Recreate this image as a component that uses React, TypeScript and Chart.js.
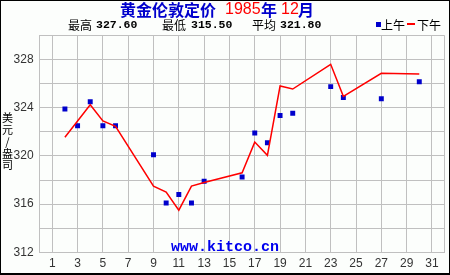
import React, { useEffect, useRef } from "react";
import { Chart, registerables } from "chart.js";

Chart.register(...registerables);

// ---- data ----
const amDays = [2, 3, 4, 5, 6, 9, 10, 11, 12, 13, 16, 17, 18, 19, 20, 23, 24, 27, 30];
const amPrices = [
  323.9, 322.5, 324.5, 322.5, 322.5, 320.1, 316.1, 316.8, 316.1, 317.9, 318.25, 321.9, 321.1,
  323.35, 323.55, 325.75, 324.85, 324.75, 326.15,
];
const pmDays = [2, 3, 4, 5, 6, 9, 10, 11, 12, 13, 16, 17, 18, 19, 20, 23, 24, 27, 30];
const pmPrices = [
  321.55, 322.9, 324.25, 322.9, 322.45, 317.5, 317.0, 315.5, 317.5, 317.8, 318.6, 321.15, 320.05,
  325.8, 325.55, 327.6, 324.95, 326.85, 326.8,
];
const xTickLabels = [1, 3, 5, 7, 9, 11, 13, 15, 17, 19, 21, 23, 25, 27, 29, 31];
const yTickLabels = [312, 316, 320, 324, 328];
const titleMain = "黄金伦敦定价";
const titleYear = "1985";
const titleYearUnit = "年";
const titleMonth = "12";
const titleMonthUnit = "月";
const statHighLabel = "最高";
const statHigh = "327.60";
const statLowLabel = "最低";
const statLow = "315.50";
const statAvgLabel = "平均";
const statAvg = "321.80";
const legendAm = "上午";
const legendPm = "下午";
const yTitleChars = ["美", "元", "/", "盎", "司"];
const watermark = "www.kitco.cn";

const CJK = "'Noto Sans CJK SC', sans-serif";
const NUM = "'Liberation Sans Narrow', 'Liberation Sans', sans-serif";
const SANS = "'Liberation Sans', sans-serif";
const MONO = "'Liberation Mono', 'DejaVu Sans Mono', monospace";
const BLUE = "#0000cc";
const RED = "#ff0000";

const decor = {
  id: "decor",
  beforeDraw(chart: any) {
    const ctx = chart.ctx;
    ctx.save();
    ctx.fillStyle = "#fcfefc";
    ctx.fillRect(0, 0, chart.width, chart.height);
    ctx.restore();
  },
  beforeDatasetsDraw(chart: any) {
    const ctx = chart.ctx;
    ctx.save();
    ctx.fillStyle = "#0000ee";
    ctx.font = `bold 15px ${MONO}`;
    ctx.textAlign = "center";
    ctx.textBaseline = "alphabetic";
    ctx.fillText(watermark, 225, 251);
    ctx.restore();
  },
  afterDraw(chart: any) {
    const ctx = chart.ctx;
    ctx.save();
    // title
    ctx.textBaseline = "middle";
    ctx.textAlign = "left";
    ctx.font = `bold 16px ${CJK}`;
    ctx.fillStyle = BLUE;
    ctx.fillText(titleMain, 120, 10);
    ctx.font = `16px ${SANS}`;
    ctx.fillStyle = RED;
    ctx.fillText(titleYear, 225, 10);
    ctx.font = `bold 16px ${CJK}`;
    ctx.fillStyle = BLUE;
    ctx.fillText(titleYearUnit, 261, 10);
    ctx.font = `16px ${SANS}`;
    ctx.fillStyle = RED;
    ctx.fillText(titleMonth, 281, 10);
    ctx.font = `bold 16px ${CJK}`;
    ctx.fillStyle = BLUE;
    ctx.fillText(titleMonthUnit, 298, 10);

    // stats line
    ctx.fillStyle = "#000000";
    ctx.font = `12px ${CJK}`;
    ctx.fillText(statHighLabel, 68, 25);
    ctx.fillText(statLowLabel, 162, 25);
    ctx.fillText(statAvgLabel, 252, 25);
    ctx.font = `bold 11.5px ${MONO}`;
    ctx.fillText(statHigh, 96, 25.5);
    ctx.fillText(statLow, 191, 25.5);
    ctx.fillText(statAvg, 280, 25.5);

    // legend
    ctx.fillStyle = BLUE;
    ctx.fillRect(376, 22, 5, 5);
    ctx.fillStyle = "#000000";
    ctx.font = `12px ${CJK}`;
    ctx.fillText(legendAm, 381, 25);
    ctx.fillStyle = RED;
    ctx.fillRect(407, 23, 8, 2);
    ctx.fillStyle = "#000000";
    ctx.fillText(legendPm, 417, 25);

    // y title (stacked)
    ctx.textAlign = "center";
    ctx.font = `11px ${CJK}`;
    yTitleChars.forEach((c, i) => {
      ctx.fillText(c, 7.5, 118 + i * 11.8);
    });

    // frame
    ctx.fillStyle = "#000000";
    ctx.fillRect(0, 0, chart.width, 1);
    ctx.fillRect(0, 0, 1, chart.height);
    ctx.fillRect(chart.width - 1, 0, 1, chart.height);
    ctx.fillRect(0, chart.height - 2, chart.width, 2);
    ctx.restore();
  },
};

export default function App() {
  const ref = useRef<HTMLCanvasElement>(null);
  useEffect(() => {
    if (!ref.current) return;
    const chart = new Chart(ref.current, {
      type: "line",
      data: {
        datasets: [
          {
            label: legendPm,
            data: pmDays.map((d, i) => ({ x: d, y: pmPrices[i] })),
            borderColor: RED,
            borderWidth: 1.5,
            pointRadius: 0,
            tension: 0,
            fill: false,
          },
          {
            label: legendAm,
            data: amDays.map((d, i) => ({ x: d, y: amPrices[i] })),
            showLine: false,
            pointStyle: "rect",
            pointRadius: 3.5,
            pointBorderWidth: 0,
            backgroundColor: BLUE,
            borderColor: BLUE,
          },
        ],
      },
      options: {
        animation: false,
        responsive: false,
        devicePixelRatio: 1,
        layout: { padding: { top: 35.4, right: 5.4, left: 0, bottom: 0 } },
        plugins: {
          legend: { display: false },
          title: { display: false },
          tooltip: { enabled: false },
        },
        scales: {
          x: {
            type: "linear",
            min: 0,
            max: 32,
            afterBuildTicks: (s: any) => {
              s.ticks = [...xTickLabels, 32].map((v) => ({ value: v }));
            },
            afterFit: (s: any) => {
              s.height = 22.6;
            },
            ticks: {
              autoSkip: false,
              maxRotation: 0,
              padding: 4,
              color: "#333333",
              font: { family: NUM, size: 12 },
              callback: (v: any) => (xTickLabels.includes(Number(v)) ? String(v) : ""),
            },
            grid: { color: "#c0c0c0", lineWidth: 1, drawTicks: false },
            border: { color: "#c0c0c0" },
          },
          y: {
            type: "linear",
            min: 312,
            max: 330,
            afterFit: (s: any) => {
              s.width = 39.6;
            },
            ticks: {
              stepSize: 2,
              padding: 6,
              color: "#333333",
              font: { family: NUM, size: 12 },
              callback: (v: any) => (yTickLabels.includes(Number(v)) ? String(v) : ""),
            },
            grid: { color: "#c0c0c0", lineWidth: 1, drawTicks: false },
            border: { color: "#c0c0c0" },
          },
        },
      },
      plugins: [decor],
    } as any);
    return () => chart.destroy();
  }, []);
  return (
    <div style={{ position: "absolute", left: 0, top: 0, width: 450, height: 275 }}>
      <canvas ref={ref} width={450} height={275} style={{ display: "block", width: 450, height: 275 }} />
    </div>
  );
}
